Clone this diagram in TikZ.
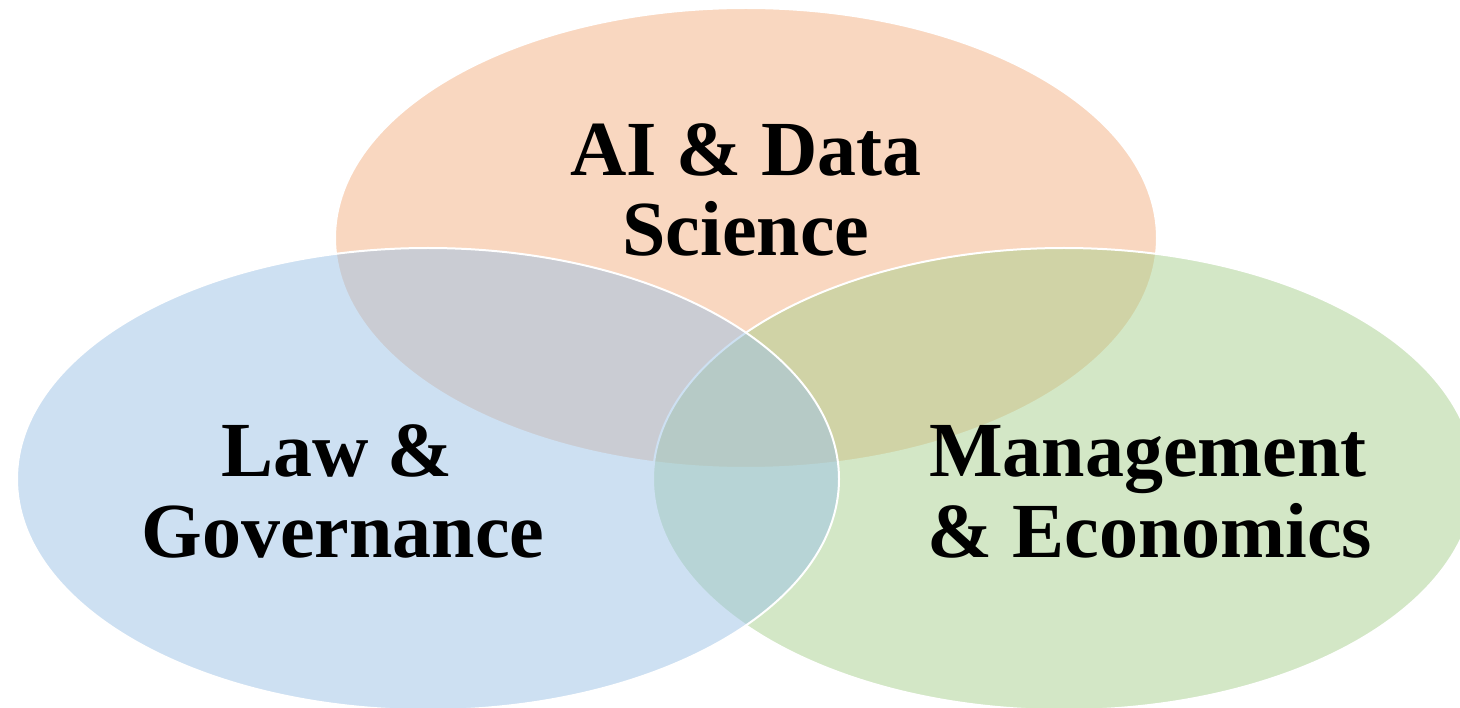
\documentclass[tikz,border=0pt]{standalone}
\usepackage{fontspec}
\setmainfont{Liberation Serif}
\definecolor{orA}{RGB}{244,177,131}
\definecolor{grA}{RGB}{169,209,142}
\definecolor{blA}{RGB}{157,195,230}
\begin{document}
\begin{tikzpicture}[x=1pt,y=-1pt,
  venn/.style={draw=white,line width=2pt,fill opacity=0.5},
  lbl/.style={anchor=base,inner sep=0pt,font=\fontsize{78pt}{80pt}\selectfont\bfseries}]
\clip (0,0) rectangle (1460,708);
\fill[white] (0,0) rectangle (1460,708);
\draw[venn,fill=orA] (746,238) ellipse [x radius=411pt, y radius=230pt];
\draw[venn,fill=grA] (1064,479) ellipse [x radius=411pt, y radius=231pt];
\draw[venn,fill=blA] (428,479) ellipse [x radius=411pt, y radius=231pt];
\node[lbl] (ai1) at (746,176) {AI \& Data};
\node[lbl] (ai2) at (746,256) {Science};
\node[lbl] (law1) at (337,477) {Law \&};
\node[lbl] (law2) at (343,557) {Governance};
\node[lbl] (man1) at (1148,477) {Management};
\node[lbl] (man2) at (1150,557) {\& Economics};
\end{tikzpicture}
\end{document}
